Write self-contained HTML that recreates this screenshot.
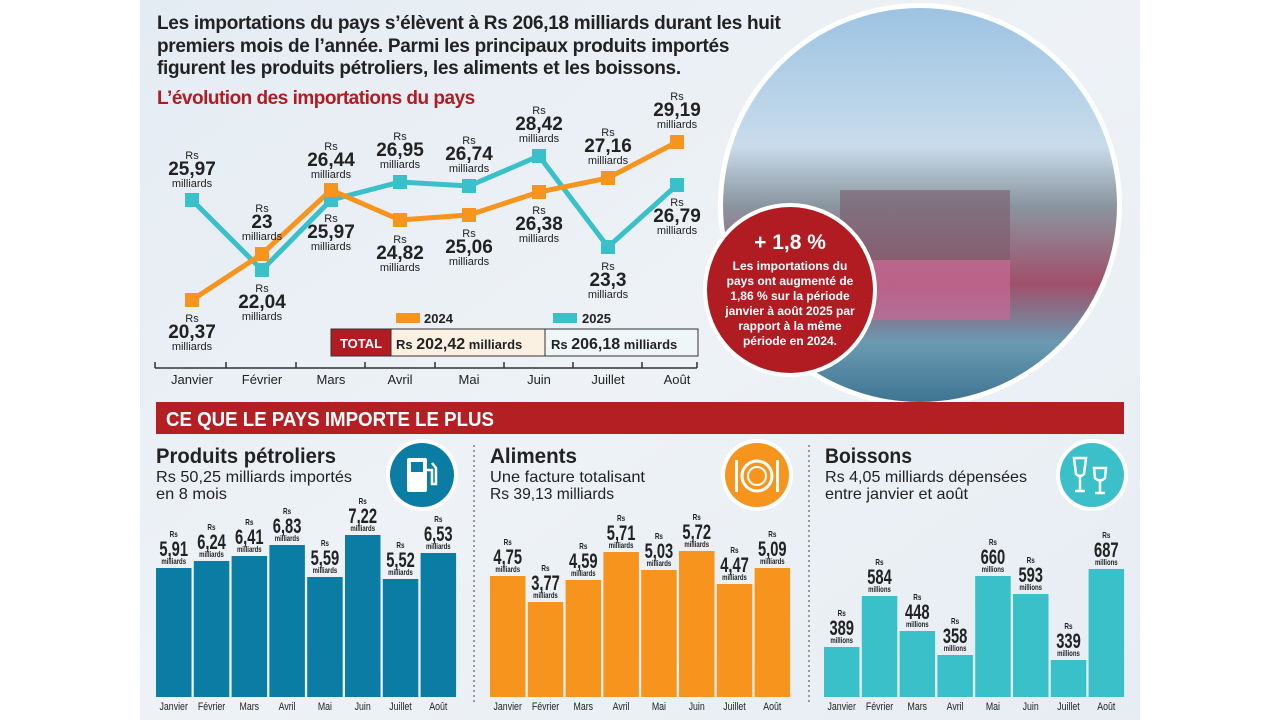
<!DOCTYPE html>
<html><head><meta charset="utf-8"><style>
body{margin:0;width:1280px;height:720px;overflow:hidden;background:#fff}
svg text{font-family:"Liberation Sans",sans-serif}
.n{font-family:"Liberation Sans Narrow","Liberation Sans",sans-serif}
</style></head><body>
<svg width="1280" height="720" viewBox="0 0 1280 720" xmlns="http://www.w3.org/2000/svg">
<defs>
<linearGradient id="bg" x1="0" y1="0" x2="1" y2="1"><stop offset="0" stop-color="#e4ecf3"/><stop offset="0.5" stop-color="#eef2f6"/><stop offset="1" stop-color="#e6edf3"/></linearGradient>
<linearGradient id="ph" x1="0" y1="0" x2="0" y2="1"><stop offset="0" stop-color="#9cc3e2"/><stop offset="0.35" stop-color="#c9dcec"/><stop offset="0.5" stop-color="#8a96a0"/><stop offset="0.7" stop-color="#a0506a"/><stop offset="0.85" stop-color="#6a9ab2"/><stop offset="1" stop-color="#3f7592"/></linearGradient>
</defs>
<rect x="140" y="0" width="1000" height="720" fill="url(#bg)"/>
<g font-size="19" font-weight="bold" fill="#222" letter-spacing="-0.3">
<text x="157" y="29">Les importations du pays s’élèvent à Rs 206,18 milliards durant les huit</text>
<text x="157" y="52">premiers mois de l’année. Parmi les principaux produits importés</text>
<text x="157" y="74">figurent les produits pétroliers, les aliments et les boissons.</text>
</g>
<text x="157" y="104" font-size="19" font-weight="bold" fill="#b01c22" letter-spacing="-0.5">L’évolution des importations du pays</text>
<circle cx="920" cy="205" r="202" fill="#fff"/>
<circle cx="920" cy="205" r="197" fill="url(#ph)"/>
<rect x="840" y="190" width="170" height="70" fill="#7a5a6a" opacity="0.6"/>
<rect x="830" y="260" width="180" height="60" fill="#c86a96" opacity="0.7"/>
<circle cx="790" cy="290" r="87" fill="#fff"/>
<circle cx="790" cy="290" r="83" fill="#b01c22"/>
<g fill="#fff" text-anchor="middle" font-weight="bold">
<text x="790" y="249" font-size="21">+ 1,8 %</text>
<text x="790" y="270" font-size="12">Les importations du</text>
<text x="790" y="285" font-size="12">pays ont augmenté de</text>
<text x="790" y="300" font-size="12">1,86 % sur la période</text>
<text x="790" y="315" font-size="12">janvier à août 2025 par</text>
<text x="790" y="330" font-size="12">rapport à la même</text>
<text x="790" y="345" font-size="12">période en 2024.</text>
</g>
<g stroke="#333" stroke-width="1.5"><line x1="155" y1="368" x2="697" y2="368"/>
<line x1="155" y1="362" x2="155" y2="368"/><line x1="226" y1="362" x2="226" y2="368"/><line x1="296" y1="362" x2="296" y2="368"/><line x1="365" y1="362" x2="365" y2="368"/><line x1="435" y1="362" x2="435" y2="368"/><line x1="504" y1="362" x2="504" y2="368"/><line x1="573" y1="362" x2="573" y2="368"/><line x1="642" y1="362" x2="642" y2="368"/><line x1="697" y1="362" x2="697" y2="368"/></g>
<g font-size="13" fill="#222" text-anchor="middle">
<text x="192" y="384">Janvier</text><text x="262" y="384">Février</text><text x="331" y="384">Mars</text><text x="400" y="384">Avril</text><text x="469" y="384">Mai</text><text x="539" y="384">Juin</text><text x="608" y="384">Juillet</text><text x="677" y="384">Août</text></g>
<polyline points="192,200 262,270 331,200 400,182 469,186 539,156 608,247 677,185" fill="none" stroke="#39c0c8" stroke-width="5"/>
<polyline points="192,300 262,254 331,190 400,220 469,215 539,192 608,178 677,142" fill="none" stroke="#f7941d" stroke-width="5"/>
<g fill="#39c0c8"><rect x="185" y="193" width="14" height="14"/><rect x="255" y="263" width="14" height="14"/><rect x="324" y="193" width="14" height="14"/><rect x="393" y="175" width="14" height="14"/><rect x="462" y="179" width="14" height="14"/><rect x="532" y="149" width="14" height="14"/><rect x="601" y="240" width="14" height="14"/><rect x="670" y="178" width="14" height="14"/></g>
<g fill="#f7941d"><rect x="185" y="293" width="14" height="14"/><rect x="255" y="247" width="14" height="14"/><rect x="324" y="183" width="14" height="14"/><rect x="393" y="213" width="14" height="14"/><rect x="462" y="208" width="14" height="14"/><rect x="532" y="185" width="14" height="14"/><rect x="601" y="171" width="14" height="14"/><rect x="670" y="135" width="14" height="14"/></g>
<g text-anchor="middle" fill="#222">
<g font-size="11"><text x="192" y="159">Rs</text><text x="192" y="322">Rs</text><text x="262" y="212">Rs</text><text x="262" y="292">Rs</text><text x="331" y="150">Rs</text><text x="331" y="222">Rs</text><text x="400" y="140">Rs</text><text x="400" y="243">Rs</text><text x="469" y="144">Rs</text><text x="469" y="237">Rs</text><text x="539" y="114">Rs</text><text x="539" y="214">Rs</text><text x="608" y="136">Rs</text><text x="608" y="270">Rs</text><text x="677" y="100">Rs</text><text x="677" y="206">Rs</text></g>
<g font-size="19" font-weight="bold"><text x="192" y="175">25,97</text><text x="192" y="338">20,37</text><text x="262" y="228">23</text><text x="262" y="308">22,04</text><text x="331" y="166">26,44</text><text x="331" y="238">25,97</text><text x="400" y="156">26,95</text><text x="400" y="259">24,82</text><text x="469" y="160">26,74</text><text x="469" y="253">25,06</text><text x="539" y="130">28,42</text><text x="539" y="230">26,38</text><text x="608" y="152">27,16</text><text x="608" y="286">23,3</text><text x="677" y="116">29,19</text><text x="677" y="222">26,79</text></g>
<g font-size="11"><text x="192" y="187">milliards</text><text x="192" y="350">milliards</text><text x="262" y="240">milliards</text><text x="262" y="320">milliards</text><text x="331" y="178">milliards</text><text x="331" y="250">milliards</text><text x="400" y="168">milliards</text><text x="400" y="271">milliards</text><text x="469" y="172">milliards</text><text x="469" y="265">milliards</text><text x="539" y="142">milliards</text><text x="539" y="242">milliards</text><text x="608" y="164">milliards</text><text x="608" y="298">milliards</text><text x="677" y="128">milliards</text><text x="677" y="234">milliards</text></g>
</g>
<rect x="396" y="313" width="24" height="10" fill="#f7941d"/><text x="424" y="323" font-size="13" font-weight="bold" fill="#222">2024</text>
<rect x="553" y="313" width="24" height="10" fill="#39c0c8"/><text x="582" y="323" font-size="13" font-weight="bold" fill="#222">2025</text>
<rect x="331" y="329" width="60" height="27" fill="#b01c22" stroke="#333"/>
<rect x="391" y="329" width="154" height="27" fill="#fbf1e2" stroke="#333"/>
<rect x="545" y="329" width="153" height="27" fill="#eef6f8" stroke="#333"/>
<text x="361" y="348" font-size="13" font-weight="bold" fill="#fff" text-anchor="middle">TOTAL</text>
<text x="396" y="349" font-size="13" font-weight="bold" fill="#222">Rs <tspan font-size="16">202,42</tspan> milliards</text>
<text x="551" y="349" font-size="13" font-weight="bold" fill="#222">Rs <tspan font-size="16">206,18</tspan> milliards</text>
<rect x="156" y="402" width="968" height="32" fill="#b41f24"/>
<text x="166" y="426" font-size="20" font-weight="bold" fill="#fff" textLength="328" lengthAdjust="spacingAndGlyphs">CE QUE LE PAYS IMPORTE LE PLUS</text>
<line x1="474" y1="445" x2="474" y2="705" stroke="#444" stroke-dasharray="2,3"/>
<line x1="809" y1="445" x2="809" y2="705" stroke="#444" stroke-dasharray="2,3"/>
<g fill="#222">
<text x="156" y="463" font-size="21" font-weight="bold" textLength="180" lengthAdjust="spacingAndGlyphs">Produits pétroliers</text>
<text x="156" y="482" font-size="16" textLength="196" lengthAdjust="spacingAndGlyphs">Rs 50,25 milliards importés</text><text x="156" y="499" font-size="16" textLength="71" lengthAdjust="spacingAndGlyphs">en 8 mois</text>
<text x="490" y="463" font-size="21" font-weight="bold" textLength="87" lengthAdjust="spacingAndGlyphs">Aliments</text>
<text x="490" y="482" font-size="16" textLength="155" lengthAdjust="spacingAndGlyphs">Une facture totalisant</text><text x="490" y="499" font-size="16" textLength="124" lengthAdjust="spacingAndGlyphs">Rs 39,13 milliards</text>
<text x="825" y="463" font-size="21" font-weight="bold" textLength="87" lengthAdjust="spacingAndGlyphs">Boissons</text>
<text x="825" y="482" font-size="16" textLength="202" lengthAdjust="spacingAndGlyphs">Rs 4,05 milliards dépensées</text><text x="825" y="499" font-size="16" textLength="143" lengthAdjust="spacingAndGlyphs">entre janvier et août</text>
</g>
<circle cx="422" cy="475" r="36" fill="#fff"/><circle cx="422" cy="475" r="32" fill="#0b7ca3"/>
<rect x="407" y="458" width="20" height="34" rx="2" fill="#fff"/><rect x="411" y="462" width="12" height="10" fill="#0b7ca3"/><path d="M427 470 h5 v14 h4 v-16 l-4 -5" stroke="#fff" stroke-width="2.5" fill="none"/>
<circle cx="757" cy="475" r="36" fill="#fff"/><circle cx="757" cy="475" r="32" fill="#f7941d"/>
<circle cx="757" cy="476" r="15" fill="none" stroke="#fff" stroke-width="3"/><circle cx="757" cy="476" r="9" fill="none" stroke="#fff" stroke-width="2"/><rect x="735" y="460" width="3" height="32" fill="#fff"/><rect x="776" y="460" width="3" height="32" fill="#fff"/>
<circle cx="1092" cy="475" r="36" fill="#fff"/><circle cx="1092" cy="475" r="32" fill="#3bbfc8"/>
<path d="M1074 458 h12 l-2 16 q-4 4 -8 0 z M1080 476 v14 M1075 491 h10 M1094 468 h12 l-1 10 q-5 5 -10 0 z M1100 482 v10 M1095 493 h10" stroke="#fff" stroke-width="2.5" fill="none"/>
<g id="bars"></g>
</svg>
<script>
const ns="http://www.w3.org/2000/svg",g=document.getElementById('bars');
const months=["Janvier","Février","Mars","Avril","Mai","Juin","Juillet","Août"];
const sets=[
 {x0:156,c:"#0b7ca3",tops:[568,561,556,545,577,535,579,553],v:["5,91","6,24","6,41","6,83","5,59","7,22","5,52","6,53"],u:"milliards"},
 {x0:490,c:"#f7941d",tops:[576,602,580,552,570,551,584,568],v:["4,75","3,77","4,59","5,71","5,03","5,72","4,47","5,09"],u:"milliards"},
 {x0:824,c:"#39c0c8",tops:[647,596,631,655,576,594,660,569],v:["389","584","448","358","660","593","339","687"],u:"millions"}];
function t(x,y,s,sz,w,sx){const e=document.createElementNS(ns,"text");e.setAttribute("x",0);e.setAttribute("y",y);e.setAttribute("font-size",sz);e.setAttribute("text-anchor","middle");e.setAttribute("fill","#222");e.setAttribute("transform","translate("+x+",0) scale("+sx+",1)");if(w)e.setAttribute("font-weight","bold");e.textContent=s;g.appendChild(e);}
sets.forEach(s=>{s.tops.forEach((tp,i)=>{const x=s.x0+i*37.8;const r=document.createElementNS(ns,"rect");r.setAttribute("x",x);r.setAttribute("y",tp);r.setAttribute("width",35.5);r.setAttribute("height",697-tp);r.setAttribute("fill",s.c);g.appendChild(r);
const cx=x+17.7;t(cx,tp-31,"Rs",8,1,0.8);t(cx,tp-12,s.v[i],21,1,0.7);t(cx,tp-4,s.u,8,1,0.75);t(cx,710,months[i],11,0,0.8);});});
</script>
</body></html>
